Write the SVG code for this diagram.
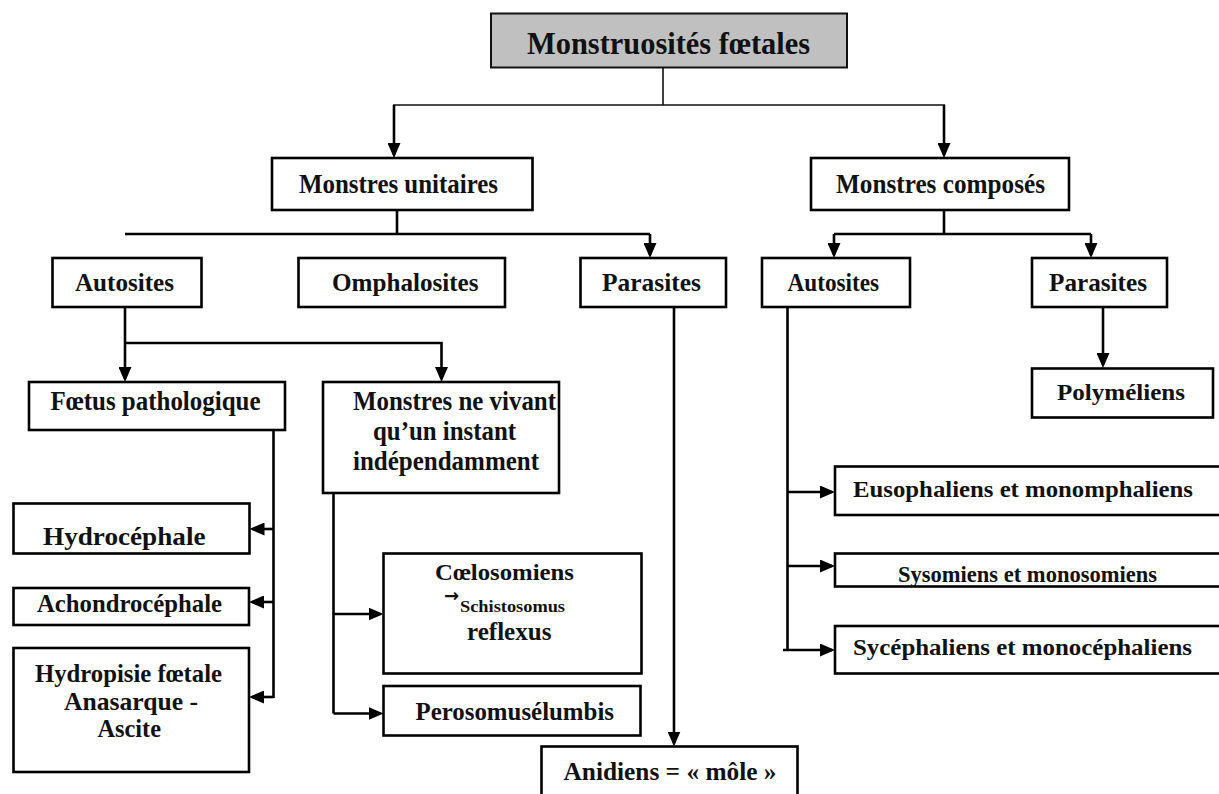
<svg xmlns="http://www.w3.org/2000/svg" width="1219" height="794" viewBox="0 0 1219 794">
<style>
  .box{fill:#fff;stroke:#000;stroke-width:2.6}
  .title{fill:#c0c0c0;stroke:#111;stroke-width:2}
  text{font-family:"Liberation Serif","Times New Roman",serif;font-weight:bold;fill:#111}
  text.sym{font-family:"DejaVu Sans",sans-serif;font-size:18px}
  .c{fill:none;stroke:#000;stroke-width:2.6}
  .thin{fill:none;stroke:#111;stroke-width:1.6}
</style>
<defs>
  <marker id="ah" markerWidth="15" markerHeight="13" refX="12" refY="6.5" orient="auto" markerUnits="userSpaceOnUse">
    <path d="M0,0 L15,6.5 L0,13 Z" fill="#000"/>
  </marker>
</defs>
<rect width="1219" height="794" fill="#fff"/>

<g id="connectors">
  <path class="thin" d="M663,68 V105 M393,105 H945"/>
  <path class="c" d="M394,105 V155" marker-end="url(#ah)"/>
  <path class="c" d="M944,105 V155" marker-end="url(#ah)"/>
  <path class="c" d="M397,210 V234 M125,234 H650"/>
  <path class="c" d="M650,234 V255" marker-end="url(#ah)"/>
  <path class="c" d="M944,210 V234 M834,234 H1091"/>
  <path class="c" d="M834,234 V255" marker-end="url(#ah)"/>
  <path class="c" d="M1091,234 V255" marker-end="url(#ah)"/>
  <path class="c" d="M125,307 V379" marker-end="url(#ah)"/>
  <path class="c" d="M125,343 H441.5 V379" marker-end="url(#ah)"/>
  <path class="c" d="M273.5,430 V698"/>
  <path class="c" d="M273.5,529 H252.5" marker-end="url(#ah)"/>
  <path class="c" d="M273.5,602 H252" marker-end="url(#ah)"/>
  <path class="c" d="M273.5,697 H252" marker-end="url(#ah)"/>
  <path class="c" d="M333.5,493 V713.5"/>
  <path class="c" d="M333.5,614 H380.5" marker-end="url(#ah)"/>
  <path class="c" d="M333.5,713.5 H380.5" marker-end="url(#ah)"/>
  <path class="c" d="M674,307 V743.5" marker-end="url(#ah)"/>
  <path class="c" d="M787.5,307 V650"/>
  <path class="c" d="M787.5,492 H832" marker-end="url(#ah)"/>
  <path class="c" d="M787.5,566 H832" marker-end="url(#ah)"/>
  <path class="c" d="M783,650 H832" marker-end="url(#ah)"/>
  <path class="c" d="M1103,307 V365" marker-end="url(#ah)"/>
</g>

<g id="n-title">
  <rect class="title" x="491" y="13.5" width="356" height="54"/>
  <text x="527" y="54" font-size="32" textLength="283" lengthAdjust="spacingAndGlyphs">Monstruosités fœtales</text>
</g>
<g id="n-unitaires">
  <rect class="box" x="272" y="158" width="260.5" height="52"/>
  <text x="299" y="193" font-size="28" textLength="199" lengthAdjust="spacingAndGlyphs">Monstres unitaires</text>
</g>
<g id="n-composes">
  <rect class="box" x="811" y="158" width="258" height="52"/>
  <text x="836" y="193" font-size="28" textLength="209" lengthAdjust="spacingAndGlyphs">Monstres composés</text>
</g>
<g id="n-autosites-u">
  <rect class="box" x="52.5" y="258" width="149" height="49"/>
  <text x="75" y="291" font-size="26" textLength="99" lengthAdjust="spacingAndGlyphs">Autosites</text>
</g>
<g id="n-omphalosites">
  <rect class="box" x="298.5" y="258" width="206.5" height="49"/>
  <text x="332" y="291" font-size="26" textLength="146.5" lengthAdjust="spacingAndGlyphs">Omphalosites</text>
</g>
<g id="n-parasites-u">
  <rect class="box" x="580.5" y="258" width="145.5" height="49"/>
  <text x="602" y="291" font-size="26" textLength="99" lengthAdjust="spacingAndGlyphs">Parasites</text>
</g>
<g id="n-autosites-c">
  <rect class="box" x="762" y="258" width="148" height="49"/>
  <text x="787.5" y="291" font-size="26" textLength="91.5" lengthAdjust="spacingAndGlyphs">Autosites</text>
</g>
<g id="n-parasites-c">
  <rect class="box" x="1032" y="258" width="135" height="49"/>
  <text x="1049" y="291" font-size="26" textLength="98" lengthAdjust="spacingAndGlyphs">Parasites</text>
</g>
<g id="n-polymeliens">
  <rect class="box" x="1032" y="368.5" width="181" height="49"/>
  <text x="1057" y="400" font-size="24" textLength="128" lengthAdjust="spacingAndGlyphs">Polyméliens</text>
</g>
<g id="n-foetus-patho">
  <rect class="box" x="29" y="382" width="256" height="48"/>
  <text x="50.5" y="410" font-size="27" textLength="210" lengthAdjust="spacingAndGlyphs">Fœtus pathologique</text>
</g>
<g id="n-monstres-ne-vivant">
  <rect class="box" x="323" y="382" width="236" height="111"/>
  <text x="353" y="410" font-size="27" textLength="203" lengthAdjust="spacingAndGlyphs">Monstres ne vivant</text>
  <text x="373" y="440" font-size="27" textLength="143" lengthAdjust="spacingAndGlyphs">qu’un instant</text>
  <text x="353" y="470" font-size="27" textLength="186" lengthAdjust="spacingAndGlyphs">indépendamment</text>
</g>
<g id="n-hydrocephale">
  <rect class="box" x="13.5" y="503.5" width="236" height="50"/>
  <text x="43" y="545" font-size="25" textLength="162.5" lengthAdjust="spacingAndGlyphs">Hydrocéphale</text>
</g>
<g id="n-achondrocephale">
  <rect class="box" x="13.5" y="588" width="235.5" height="37"/>
  <text x="37" y="611.5" font-size="26" textLength="185" lengthAdjust="spacingAndGlyphs">Achondrocéphale</text>
</g>
<g id="n-hydropisie">
  <rect class="box" x="13.5" y="648" width="235.5" height="124"/>
  <text x="35" y="681.5" font-size="26" textLength="187" lengthAdjust="spacingAndGlyphs">Hydropisie fœtale</text>
  <text x="64" y="710" font-size="26" textLength="134" lengthAdjust="spacingAndGlyphs">Anasarque -</text>
  <text x="97.5" y="736.5" font-size="26" textLength="63.5" lengthAdjust="spacingAndGlyphs">Ascite</text>
</g>
<g id="n-coelosomiens">
  <rect class="box" x="383.5" y="553.5" width="258" height="120"/>
  <text x="435" y="579.5" font-size="24" textLength="139" lengthAdjust="spacingAndGlyphs">Cœlosomiens</text>
  <text class="sym" x="444" y="602">→</text>
  <text x="460" y="611.5" font-size="16" textLength="105" lengthAdjust="spacingAndGlyphs">Schistosomus</text>
  <text x="467" y="640" font-size="25" textLength="84.5" lengthAdjust="spacingAndGlyphs">reflexus</text>
</g>
<g id="n-perosomus">
  <rect class="box" x="383.5" y="686" width="257" height="49.5"/>
  <text x="415.5" y="720" font-size="26" textLength="198.5" lengthAdjust="spacingAndGlyphs">Perosomusélumbis</text>
</g>
<g id="n-anidiens">
  <rect class="box" x="541.5" y="746.5" width="256" height="80"/>
  <text x="563.5" y="779.5" font-size="25" textLength="213" lengthAdjust="spacingAndGlyphs">Anidiens = « môle »</text>
</g>
<g id="n-eusophaliens">
  <rect class="box" x="835" y="466.5" width="420" height="48.5"/>
  <text x="853" y="497" font-size="24" textLength="340" lengthAdjust="spacingAndGlyphs">Eusophaliens et monomphaliens</text>
</g>
<g id="n-sysomiens">
  <rect class="box" x="835" y="553.5" width="420" height="33"/>
  <text x="898" y="581.5" font-size="22.5" textLength="259" lengthAdjust="spacingAndGlyphs">Sysomiens et monosomiens</text>
</g>
<g id="n-sycephaliens">
  <rect class="box" x="835" y="626" width="420" height="47.5"/>
  <text x="853" y="655" font-size="24" textLength="339" lengthAdjust="spacingAndGlyphs">Sycéphaliens et monocéphaliens</text>
</g>
</svg>
